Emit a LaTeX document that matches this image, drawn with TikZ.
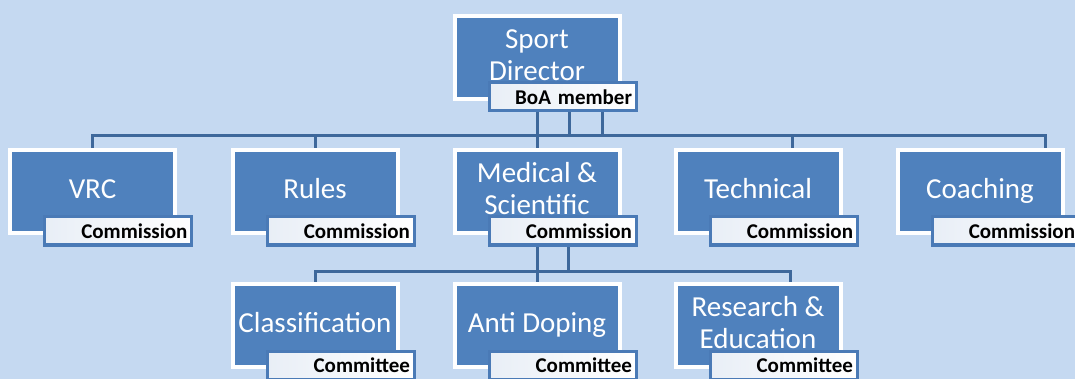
\documentclass[tikz,border=0pt]{standalone}
\usepackage{fontspec}
\setmainfont{Carlito}
\usetikzlibrary{calc}
\definecolor{bgblue}{RGB}{197,217,241}
\definecolor{boxblue}{RGB}{79,129,189}
\definecolor{tagblue}{RGB}{74,122,182}
\definecolor{tagleft}{RGB}{232,238,246}
\definecolor{lineblue}{RGB}{62,104,155}
\pgfdeclarelayer{bg}
\pgfdeclarelayer{lines}
\pgfsetlayers{bg,lines,main}
\begin{document}
\begin{tikzpicture}[x=1pt,y=-1pt,
  orgbox/.style={draw=white, line width=4pt, fill=boxblue, minimum width=165pt, minimum height=83pt, inner sep=0pt},
  orgtext/.style={text=white, font=\fontsize{29}{32}\selectfont, align=center, inner sep=0pt},
  tagbox/.style={draw=tagblue, line width=3pt, left color=tagleft, right color=white, minimum height=28pt, text width=139pt, inner xsep=4pt, inner ysep=0pt, align=right, font=\bfseries\fontsize{21}{23}\selectfont, text=black},
  conn/.style={draw=lineblue, line width=3pt}]
\useasboundingbox (0,0) rectangle (1075,379);
\begin{pgfonlayer}{bg}
\fill[bgblue] (0,0) rectangle (1075,379);
\end{pgfonlayer}

% boxes
\node[orgbox] (sport) at (537,57.5) {};
\node[orgbox] (vrc) at (92.5,191.5) {};
\node[orgbox] (rules) at (315,191.5) {};
\node[orgbox] (medical) at (537,191.5) {};
\node[orgbox] (technical) at (758,191.5) {};
\node[orgbox] (coaching) at (980,191.5) {};
\node[orgbox] (classification) at (315,325.5) {};
\node[orgbox] (antidoping) at (537,325.5) {};
\node[orgbox] (research) at (758,325.5) {};

% texts
\node[orgtext] (sport-t) at ($(sport.center)+(0,0.5)$) {\strut Sport\\\strut Director};
\node[orgtext] (vrc-t) at ($(vrc.center)+(0,0.5)$) {\strut VRC};
\node[orgtext] (rules-t) at ($(rules.center)+(0,0.5)$) {\strut Rules};
\node[orgtext] (medical-t) at ($(medical.center)+(0,0.5)$) {\strut Medical \&\\\strut Scientific};
\node[orgtext] (technical-t) at ($(technical.center)+(0,0.5)$) {\strut Technical};
\node[orgtext] (coaching-t) at ($(coaching.center)+(0,0.5)$) {\strut Coaching};
\node[orgtext] (classification-t) at ($(classification.center)+(0,0.5)$) {\strut Classification};
\node[orgtext] (antidoping-t) at ($(antidoping.center)+(0,0.5)$) {\strut Anti Doping};
\node[orgtext] (research-t) at ($(research.center)+(0,0.5)$) {\strut Research \&\\\strut Education};

% tags
\node[tagbox] (sport-tag) at ($(sport.center)+(25.5,39.5)$) {BoA member};
\node[tagbox] (vrc-tag) at ($(vrc.center)+(25.5,39.5)$) {Commission};
\node[tagbox] (rules-tag) at ($(rules.center)+(25.5,39.5)$) {Commission};
\node[tagbox] (medical-tag) at ($(medical.center)+(25.5,39.5)$) {Commission};
\node[tagbox] (technical-tag) at ($(technical.center)+(25.5,39.5)$) {Commission};
\node[tagbox] (coaching-tag) at ($(coaching.center)+(25.5,39.5)$) {Commission};
\node[tagbox] (classification-tag) at ($(classification.center)+(25.5,39.5)$) {Committee};
\node[tagbox] (antidoping-tag) at ($(antidoping.center)+(25.5,39.5)$) {Committee};
\node[tagbox] (research-tag) at ($(research.center)+(25.5,39.5)$) {Committee};

% connector helper coordinates
\coordinate (bus1) at (537,136);
\coordinate (bus2) at (537,271);
\coordinate (sd2) at ($(sport-tag.south)+(6.5,0)$);
\coordinate (sd3) at ($(sport-tag.south)+(39.5,0)$);
\coordinate (md2) at ($(medical-tag.south)+(5.5,0)$);
\coordinate (tech-drop) at ($(technical.north)+(34,0)$);
\coordinate (coach-drop) at ($(coaching.north)+(65,0)$);
\coordinate (res-drop) at ($(research.north)+(32,0)$);

\begin{pgfonlayer}{lines}
\draw[conn] (sport.center |- sport-tag.south) -- (medical.north);
\draw[conn] (sd2) -- (sd2 |- bus1);
\draw[conn] (sd3) -- (sd3 |- bus1);
\draw[conn] (vrc.north) |- (bus1) -| (coach-drop);
\draw[conn] (rules.north |- bus1) -- (rules.north);
\draw[conn] (tech-drop |- bus1) -- (tech-drop);
\draw[conn] (medical.center |- medical-tag.south) -- (antidoping.north);
\draw[conn] (md2) -- (md2 |- bus2);
\draw[conn] (classification.north) |- (bus2) -| (res-drop);
\end{pgfonlayer}
\end{tikzpicture}
\end{document}
